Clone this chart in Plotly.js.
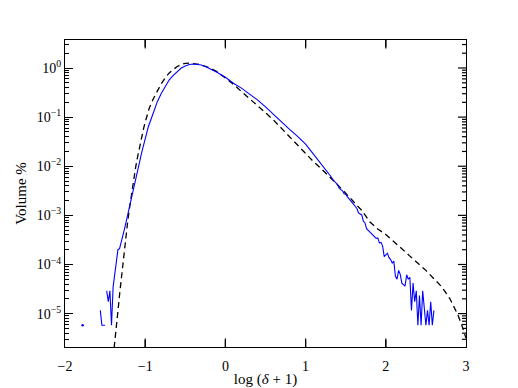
<!DOCTYPE html>
<html>
<head>
<meta charset="utf-8">
<script src="https://cdn.plot.ly/plotly-3.0.1.min.js"></script>
<style>html,body{margin:0;padding:0;background:#fff;}#plot{width:518px;height:388px;}</style>
</head>
<body>
<div id="plot"></div>
<script>
// Measured volume distribution (blue, noisy)
const blueX = [-1.78,-1.76,-1.58,-1.56,-1.54,-1.52,-1.50,-1.49,-1.48,-1.46,-1.44,-1.42,-1.40,-1.38,-1.36,-1.34,-1.32,-1.30,-1.28,-1.26,-1.24,-1.22,-1.20,-1.18,-1.16,-1.14,-1.12,-1.10,-1.08,-1.06,-1.04,-1.02,-1.00,-0.98,-0.96,-0.90,-0.85,-0.80,-0.75,-0.70,-0.65,-0.60,-0.55,-0.50,-0.45,-0.40,-0.35,-0.30,-0.25,-0.20,-0.10,0.0,0.1,0.2,0.3,0.4,0.5,0.6,0.7,0.8,0.9,1.0,1.1,1.2,1.3,1.32,1.34,1.36,1.38,1.40,1.42,1.44,1.46,1.48,1.50,1.52,1.54,1.56,1.58,1.60,1.62,1.64,1.66,1.68,1.70,1.72,1.74,1.76,1.78,1.80,1.82,1.84,1.86,1.88,1.90,1.92,1.94,1.96,1.98,2.00,2.02,2.04,2.06,2.08,2.10,2.12,2.14,2.16,2.18,2.20,2.22,2.24,2.26,2.28,2.30,2.32,2.34,2.36,2.38,2.40,2.42,2.44,2.46,2.48,2.50,2.52,2.54,2.56,2.58,2.60];
const blueY = [5.8e-6,null,null,1.16e-5,5.8e-6,5.8e-6,5.8e-6,null,2.9e-5,1.74e-5,2.9e-5,5.8e-6,3.5e-5,6.3e-5,1.41e-4,2.0e-4,2.09e-4,2.82e-4,3.31e-4,5.13e-4,7.08e-4,1.0e-3,1.51e-3,2.09e-3,3.02e-3,4.17e-3,5.37e-3,7.59e-3,1.05e-2,1.45e-2,2.0e-2,2.75e-2,3.72e-2,4.9e-2,6.46e-2,0.120,0.204,0.302,0.427,0.575,0.708,0.851,1.0,1.096,1.175,1.202,1.189,1.148,1.072,0.977,0.813,0.646,0.490,0.389,0.295,0.224,0.162,0.112,7.76e-2,5.62e-2,4.07e-2,2.82e-2,1.74e-2,1.10e-2,6.76e-3,6.03e-3,5.37e-3,5.01e-3,4.57e-3,4.17e-3,3.55e-3,3.39e-3,3.16e-3,2.75e-3,2.69e-3,2.40e-3,2.19e-3,2.0e-3,1.74e-3,1.66e-3,1.45e-3,1.38e-3,1.12e-3,1.05e-3,1.02e-3,7.59e-4,7.08e-4,5.37e-4,5.01e-4,4.68e-4,4.37e-4,4.07e-4,3.80e-4,3.39e-4,3.47e-4,2.75e-4,2.82e-4,2.40e-4,1.45e-4,1.58e-4,1.70e-4,1.38e-4,1.26e-4,1.07e-4,1.17e-4,5.75e-5,5.01e-5,7.59e-5,6.31e-5,4.17e-5,3.80e-5,3.63e-5,6.17e-5,5.01e-5,5.50e-5,1.16e-5,4.17e-5,1.74e-5,2.9e-5,5.8e-6,2.32e-5,5.8e-6,2.9e-5,1.16e-5,5.8e-6,1.16e-5,5.8e-6,1.74e-5,5.8e-6,1.16e-5];

// Model curve (black dashed)
const modelX = [-1.40,-1.38,-1.36,-1.34,-1.32,-1.30,-1.28,-1.26,-1.24,-1.22,-1.20,-1.18,-1.16,-1.14,-1.12,-1.10,-1.08,-1.06,-1.04,-1.02,-1.00,-0.95,-0.90,-0.85,-0.80,-0.75,-0.70,-0.65,-0.60,-0.55,-0.50,-0.45,-0.40,-0.35,-0.30,-0.25,-0.20,-0.10,0.0,0.1,0.2,0.3,0.4,0.5,0.6,0.7,0.8,0.9,1.0,1.1,1.2,1.3,1.4,1.5,1.6,1.7,1.8,1.9,2.0,2.1,2.2,2.3,2.4,2.5,2.6,2.7,2.8,2.9,2.95,3.0];
const modelY = [1.26e-6,2.40e-6,5.25e-6,1.12e-5,2.40e-5,5.01e-5,1.0e-4,2.0e-4,3.80e-4,7.08e-4,1.26e-3,2.19e-3,3.63e-3,5.89e-3,9.33e-3,1.41e-2,2.09e-2,3.02e-2,4.27e-2,5.89e-2,7.94e-2,0.151,0.234,0.347,0.479,0.631,0.794,0.933,1.072,1.175,1.245,1.259,1.245,1.202,1.148,1.084,1.012,0.832,0.631,0.468,0.331,0.240,0.174,0.123,8.71e-2,5.89e-2,3.98e-2,2.69e-2,1.78e-2,1.23e-2,8.71e-3,6.17e-3,4.17e-3,2.82e-3,1.91e-3,1.26e-3,7.41e-4,5.25e-4,4.07e-4,2.95e-4,2.09e-4,1.48e-4,1.07e-4,7.59e-5,5.13e-5,3.47e-5,2.00e-5,9.33e-6,5.62e-6,3.16e-6];

const xTickVals = [-2,-1,0,1,2,3];
const xTickText = ['\u22122','\u22121','0','1','2','3'];
const yTickVals = [1,0.1,0.01,0.001,0.0001,0.00001];
const yTickText = ['10<sup>0</sup>','10<sup>\u22121</sup>','10<sup>\u22122</sup>','10<sup>\u22123</sup>','10<sup>\u22124</sup>','10<sup>\u22125</sup>'];
const yMinorDigits = [2,3,4,5,6,7,8,9];

// isolated points (no neighbours) are shown as dots
const isoX = [], isoY = [];
for (let i = 0; i < blueX.length; i++) {
  const prev = i > 0 ? blueY[i-1] : null, next = i < blueY.length-1 ? blueY[i+1] : null;
  if (blueY[i] !== null && prev === null && next === null) { isoX.push(blueX[i]); isoY.push(blueY[i]); }
}

const fam = 'Liberation Serif, DejaVu Serif, serif';
const font = {family: fam, color: '#000', size: 14};
const xRange = [-2, 3];
const yRange = [-5.68, 0.57];
const M = {l: 65, r: 52, t: 40, b: 41}, W = 518, H = 388;
const plotW = W - M.l - M.r, plotH = H - M.t - M.b;

// inside tick marks on the bottom, top and right edges (matplotlib style), built from the tick arrays
const tkX = [], tkY = [];
const dyX = 7 / plotH * (yRange[1] - yRange[0]);
const xInner = xTickVals.slice(1, -1);
xInner.forEach(v => {
  tkX.push(v, v, null, v, v, null);
  tkY.push(Math.pow(10, yRange[0] + 0.002), Math.pow(10, yRange[0] + dyX), null,
           Math.pow(10, yRange[1] - 0.002), Math.pow(10, yRange[1] - dyX), null);
});
const xSpan = xRange[1] - xRange[0];
const rightTicks = [];
yTickVals.forEach(v => rightTicks.push([v, 8]));
for (let e = -6; e <= 0; e++) yMinorDigits.forEach(d => rightTicks.push([d * Math.pow(10, e), 4]));
rightTicks.forEach(([v, len]) => {
  const lv = Math.log10(v);
  if (lv <= yRange[0] || lv >= yRange[1]) return;
  tkX.push(xRange[1], xRange[1] - len / plotW * xSpan, null);
  tkY.push(v, v, null);
});

// the same x ticks also as short vertical marker strokes (backup rendering path)
const tmX = [], tmY = [];
xInner.forEach(v => {
  tmX.push(v, v);
  tmY.push(Math.pow(10, yRange[0] + dyX / 2), Math.pow(10, yRange[1] - dyX / 2));
});

const traces = [
  {x: modelX, y: modelY, mode: 'lines', line: {color: '#000', width: 1.3, dash: '6px,4px'}, hoverinfo: 'skip'},
  {x: blueX, y: blueY, mode: 'lines', line: {color: '#0000ff', width: 1.1}, connectgaps: false, hoverinfo: 'skip'},
  {x: isoX, y: isoY, mode: 'markers', marker: {color: '#0000ff', size: 2.5}, hoverinfo: 'skip'},
  {x: tkX, y: tkY, mode: 'lines', line: {color: '#000', width: 1.2, simplify: false}, connectgaps: false, hoverinfo: 'skip'},
  {x: tmX, y: tmY, mode: 'markers', marker: {symbol: 'line-ns', size: 7, color: '#000', line: {color: '#000', width: 1.2}}, hoverinfo: 'skip'}
];

const layout = {
  width: W, height: H, autosize: false,
  margin: M,
  paper_bgcolor: '#fff', plot_bgcolor: '#fff',
  showlegend: false, font: font,
  xaxis: {
    range: xRange, tickvals: xTickVals, ticktext: xTickText, ticks: '',
    showgrid: false, zeroline: false, showline: true, linecolor: '#000', linewidth: 1, mirror: true, tickfont: font,
    ticklabelstandoff: 6,
    title: {text: 'log (<i>\u03b4</i> + 1)', font: {family: fam, size: 15, color: '#000'}, standoff: 4}
  },
  yaxis: {
    type: 'log', range: yRange, tickvals: yTickVals, ticktext: yTickText, ticks: 'inside', ticklen: 8, tickcolor: '#000',
    showgrid: false, zeroline: false, showline: true, linecolor: '#000', linewidth: 1, mirror: true, tickfont: font,
    minor: {ticks: 'inside', ticklen: 4, tickcolor: '#000', dtick: 'D1', showgrid: false},
    title: {text: 'Volume %', font: {family: fam, size: 15, color: '#000'}, standoff: 6}
  }
};

Plotly.newPlot('plot', traces, layout, {displayModeBar: false, staticPlot: true});
</script>
</body>
</html>
